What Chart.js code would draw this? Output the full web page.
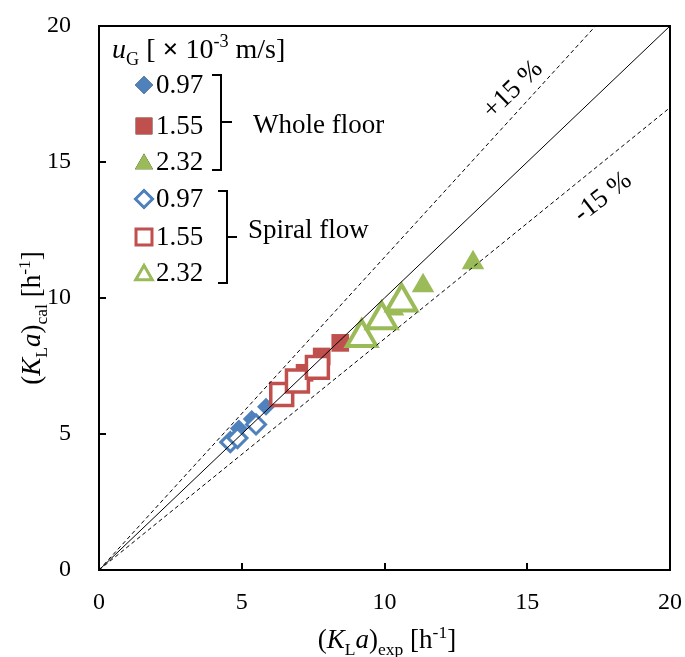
<!DOCTYPE html>
<html>
<head>
<meta charset="utf-8">
<script src="https://cdn.jsdelivr.net/npm/chart.js@4/dist/chart.umd.min.js"></script>
<style>
  html, body { margin: 0; background: #fff; overflow: hidden; }
  #wrap { width: 691px; height: 657px; position: relative; }
  #myChart { display: block; }
</style>
</head>
<body>
<div id="wrap"><canvas id="myChart"></canvas></div>
<script>
// KLa: measured (x) vs calculated (y), h^-1
var wholeX097 = [4.9, 5.35, 5.85];
var wholeY097 = [5.2, 5.55, 6.0];
var wholeX155 = [7.2, 7.8, 8.45];
var wholeY155 = [7.25, 7.85, 8.35];
var wholeX232 = [10.3, 11.35, 13.1];
var wholeY232 = [9.6, 10.45, 11.3];

var spiralX097 = [4.6, 4.85, 5.5];
var spiralY097 = [4.7, 4.85, 5.35];
var spiralX155 = [6.4, 6.95, 7.65];
var spiralY155 = [6.45, 6.95, 7.45];
var spiralX232 = [9.2, 9.9, 10.6];
var spiralY232 = [8.55, 9.2, 9.85];

var velocities = ['0.97', '1.55', '2.32'];
var tickValues = [0, 5, 10, 15, 20];
var axisMax = 20;
var band = 0.15;

var BLUE = '#4F81BD', RED = '#C0504D', GREEN = '#9BBB59';
var FONT = '"Liberation Serif", "Times New Roman", serif';

function pts(xs, ys) {
  return xs.map(function(x, i) { return {x: x, y: ys[i]}; });
}

// line y = k*x clipped to the axis box
function refLine(k) {
  var xEnd = Math.min(axisMax, axisMax / k);
  return [{x: 0, y: 0}, {x: xEnd, y: k * xEnd}];
}

function lineSet(k, dash) {
  return {
    type: 'line', data: refLine(k), borderColor: '#000', borderWidth: 1,
    borderDash: dash, pointRadius: 0, fill: false, order: 0
  };
}

function filled(data, color, style, r) {
  return { data: data, pointStyle: style, pointRadius: r, pointBackgroundColor: color,
           pointBorderColor: color, pointBorderWidth: 0, order: 2 };
}
function hollow(data, color, style, r, bw) {
  return { data: data, pointStyle: style, pointRadius: r, pointBackgroundColor: '#fff',
           pointBorderColor: color, pointBorderWidth: bw, order: 1 };
}

// text made of runs: italic, subscript, superscript
function setFont(ctx, p, size) {
  var s = (p.sub || p.sup) ? size * 0.65 : size;
  ctx.font = (p.it ? 'italic ' : '') + (p.b ? 'bold ' : '') + s + 'px ' + FONT;
}
function drawRich(ctx, parts, x, y, size, align) {
  var w = 0;
  parts.forEach(function(p) { setFont(ctx, p, size); w += ctx.measureText(p.t).width; });
  var cx = align === 'center' ? x - w / 2 : x;
  ctx.textBaseline = 'alphabetic';
  ctx.textAlign = 'left';
  parts.forEach(function(p) {
    var dy = p.sub ? size * 0.25 : (p.sup ? -size * 0.38 : 0);
    setFont(ctx, p, size);
    ctx.fillText(p.t, cx, y + dy);
    cx += ctx.measureText(p.t).width;
  });
}

function marker(ctx, style, x, y, r, fillCol, strokeCol, bw) {
  ctx.save();
  Chart.helpers.drawPoint(ctx, {pointStyle: style, radius: r, borderWidth: bw}, x, y);
  ctx.fillStyle = fillCol;
  ctx.fill();
  if (bw > 0) { ctx.strokeStyle = strokeCol; ctx.lineWidth = bw; ctx.stroke(); }
  ctx.restore();
}

// fixed axis box, no extra room for edge labels
function noPad(s) {
  s.paddingLeft = s.paddingRight = s.paddingTop = s.paddingBottom = 0;
}

var decorations = {
  id: 'decorations',
  afterDatasetsDraw: function(chart) {
    var ctx = chart.ctx, a = chart.chartArea;
    var sx = chart.scales.x, sy = chart.scales.y;
    ctx.save();
    ctx.fillStyle = '#000';
    ctx.strokeStyle = '#000';

    // frame and inside ticks
    ctx.lineWidth = 2;
    ctx.strokeRect(a.left, a.top, a.right - a.left, a.bottom - a.top);
    ctx.beginPath();
    tickValues.forEach(function(v) {
      var px = Math.round(sx.getPixelForValue(v));
      ctx.moveTo(px, a.bottom); ctx.lineTo(px, a.bottom - 7);
      var py = Math.round(sy.getPixelForValue(v));
      ctx.moveTo(a.left, py); ctx.lineTo(a.left + 7, py);
    });
    ctx.stroke();

    // band labels
    ctx.font = '27px ' + FONT;
    ctx.textAlign = 'center';
    ctx.textBaseline = 'middle';
    ctx.save();
    ctx.translate(sx.getPixelForValue(14.5), sy.getPixelForValue(17.65));
    ctx.rotate(-44 * Math.PI / 180);
    ctx.fillText('+15 %', 0, 0);
    ctx.restore();
    ctx.save();
    ctx.translate(sx.getPixelForValue(17.65), sy.getPixelForValue(13.7));
    ctx.rotate(-38 * Math.PI / 180);
    ctx.fillText('-15 %', 0, 0);
    ctx.restore();

    // legend
    drawRich(ctx, [{t: 'u', it: true}, {t: 'G', sub: true}, {t: ' [ '},
                   {t: '\u00d7', b: true}, {t: ' 10'}, {t: '-3', sup: true}, {t: ' m/s]'}],
             112, 58, 28, 'left');
    var rows = [
      ['rectRot', BLUE, 9, false], ['rect', RED, 11.8, false], ['triangle', GREEN, 10.5, false],
      ['rectRot', BLUE, 8.5, true], ['rect', RED, 11.3, true], ['triangle', GREEN, 9.5, true]
    ];
    var rowY = [85, 126, 162, 199, 237, 273];
    rows.forEach(function(r, i) {
      var y = rowY[i];
      var my = y + (r[0] === 'triangle' ? 2 : 0);
      if (r[3]) marker(ctx, r[0], 144, my, r[2], '#fff', r[1], 3);
      else marker(ctx, r[0], 144, my, r[2], r[1], r[1], 0);
      ctx.fillStyle = '#000';
      ctx.font = '27px ' + FONT;
      ctx.textAlign = 'left';
      ctx.textBaseline = 'middle';
      ctx.fillText(velocities[i % 3], 156, y + 1);
    });

    // brackets
    ctx.strokeStyle = '#000';
    ctx.lineWidth = 2;
    ctx.beginPath();
    ctx.moveTo(212, 75); ctx.lineTo(221, 75); ctx.lineTo(221, 170); ctx.lineTo(212, 170);
    ctx.moveTo(221, 122); ctx.lineTo(232, 122);
    ctx.moveTo(218, 191); ctx.lineTo(227, 191); ctx.lineTo(227, 283); ctx.lineTo(218, 283);
    ctx.moveTo(227, 237); ctx.lineTo(237, 237);
    ctx.stroke();
    ctx.font = '27px ' + FONT;
    ctx.textAlign = 'left';
    ctx.textBaseline = 'middle';
    ctx.fillText('Whole floor', 253, 126);
    ctx.fillText('Spiral flow', 248, 231);

    // axis titles
    drawRich(ctx, [{t: '('}, {t: 'K', it: true}, {t: 'L', sub: true}, {t: 'a', it: true},
                   {t: ')'}, {t: 'exp', sub: true}, {t: ' [h'}, {t: '-1', sup: true}, {t: ']'}],
             387, 648, 27, 'center');
    ctx.save();
    ctx.translate(40, 318);
    ctx.rotate(-Math.PI / 2);
    drawRich(ctx, [{t: '('}, {t: 'K', it: true}, {t: 'L', sub: true}, {t: 'a', it: true},
                   {t: ')'}, {t: 'cal', sub: true}, {t: ' [h'}, {t: '-1', sup: true}, {t: ']'}],
             0, 0, 27, 'center');
    ctx.restore();
    ctx.restore();
  }
};

var ctx = document.getElementById('myChart');

new Chart(ctx, {
  type: 'scatter',
  data: {
    datasets: [
      lineSet(1, []),
      lineSet(1 + band, [4, 3]),
      lineSet(1 - band, [4, 3]),
      filled(pts(wholeX097, wholeY097), BLUE, 'rectRot', 9),
      filled(pts(wholeX155, wholeY155), RED, 'rect', 12.5),
      filled(pts(wholeX232, wholeY232), GREEN, 'triangle', 13),
      hollow(pts(spiralX097, spiralY097), BLUE, 'rectRot', 9.5, 3),
      hollow(pts(spiralX155, spiralY155), RED, 'rect', 15.5, 3.5),
      hollow(pts(spiralX232, spiralY232), GREEN, 'triangle', 17, 4)
    ]
  },
  options: {
    responsive: true,
    maintainAspectRatio: false,
    animation: false,
    layout: { padding: { left: 0, top: 26, right: 16, bottom: 0 } },
    plugins: { legend: { display: false }, tooltip: { enabled: false } },
    scales: {
      x: {
        type: 'linear', min: 0, max: axisMax,
        afterFit: function(s) { s.height = 87; noPad(s); },
        afterBuildTicks: function(s) { s.ticks = tickValues.map(function(v) { return {value: v}; }); },
        grid: { display: false, drawTicks: false },
        border: { display: false },
        ticks: { color: '#000', padding: 18, maxRotation: 0, font: { family: FONT, size: 24 } }
      },
      y: {
        type: 'linear', min: 0, max: axisMax,
        afterFit: function(s) { s.width = 99; noPad(s); },
        afterBuildTicks: function(s) { s.ticks = tickValues.map(function(v) { return {value: v}; }); },
        grid: { display: false, drawTicks: false },
        border: { display: false },
        ticks: { color: '#000', padding: 28, font: { family: FONT, size: 24 } }
      }
    }
  },
  plugins: [decorations]
});
</script>
</body>
</html>
